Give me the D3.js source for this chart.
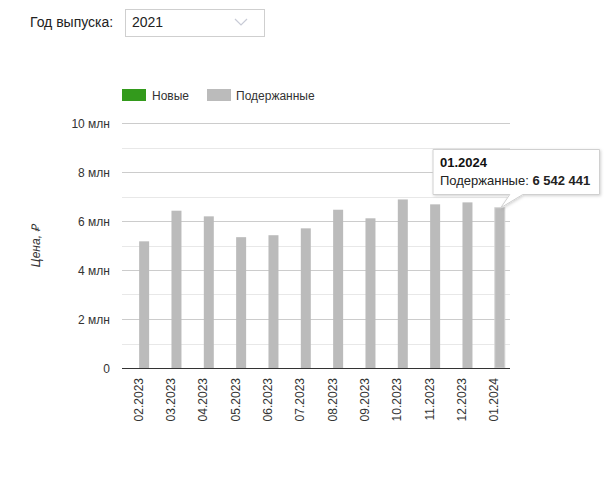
<!DOCTYPE html>
<html><head><meta charset="utf-8">
<script src="https://cdn.jsdelivr.net/npm/d3@7"></script>
<style>
body{margin:0;background:#fff;font-family:"Liberation Sans",Arial,sans-serif;}
</style></head>
<body><svg id="c" width="612" height="480"></svg>
<script>
const categories = ["02.2023","03.2023","04.2023","05.2023","06.2023","07.2023","08.2023","09.2023","10.2023","11.2023","12.2023","01.2024"];
const newValues = [0,0,0,0,0,0,0,0,0,0,0,0];
const usedValues = [5170000,6420000,6190000,5340000,5420000,5700000,6460000,6110000,6880000,6680000,6760000,6542441];
const yTicks = [0,2000000,4000000,6000000,8000000,10000000];
const yTickLabels = ["0","2 млн","4 млн","6 млн","8 млн","10 млн"];
const minorTicks = [1000000,3000000,5000000,7000000,9000000];
const seriesNames = ["Новые","Подержанные"];
const seriesColors = ["#339a1c","#bbbbbb"];
const yearLabel = "Год выпуска:";
const yearValue = "2021";
const yTitle = "Цена, ₽";
const tipIndex = 11;

const svg = d3.select("#c");
const font = '"Liberation Sans",Arial,sans-serif';
const m = {l:122, r:510, t:123, b:368};
const x = d3.scaleBand().domain(categories).range([m.l, m.r]);
const y = d3.scaleLinear().domain([0,10000000]).range([m.b, m.t]);

// dropdown
svg.append("text").attr("x",30).attr("y",27).attr("font-family",font).attr("font-size",14).attr("fill","#222").text(yearLabel);
svg.append("rect").attr("x",125.5).attr("y",9.5).attr("width",139).attr("height",27).attr("fill","#fff").attr("stroke","#cfcfcf");
svg.append("text").attr("x",132).attr("y",27).attr("font-family",font).attr("font-size",14).attr("fill","#222").text(yearValue);
svg.append("path").attr("d","M235,19 L241,25 L247,19").attr("fill","none").attr("stroke","#c8cbd6").attr("stroke-width",1.2);

// legend
const leg = svg.append("g");
const legX = [122, 207];
const legTX = [152, 236];
seriesNames.forEach((n,i)=>{
  leg.append("rect").attr("x",legX[i]).attr("y",89).attr("width",24).attr("height",12).attr("fill",seriesColors[i]);
  leg.append("text").attr("x",legTX[i]).attr("y",99.5).attr("font-family",font).attr("font-size",12).attr("fill","#333").text(n);
});

// grid
svg.append("g").selectAll("line.minor").data(minorTicks).join("line")
  .attr("x1",m.l).attr("x2",m.r).attr("y1",d=>Math.round(y(d))+0.5).attr("y2",d=>Math.round(y(d))+0.5)
  .attr("stroke","#e8e8e8");
svg.append("g").selectAll("line.major").data(yTicks.slice(1)).join("line")
  .attr("x1",m.l).attr("x2",m.r).attr("y1",d=>Math.round(y(d))+0.5).attr("y2",d=>Math.round(y(d))+0.5)
  .attr("stroke","#cccccc");

// y labels
svg.append("g").selectAll("text").data(yTicks).join("text")
  .attr("x",110).attr("y",d=>y(d)+4.5).attr("text-anchor","end")
  .attr("font-family",font).attr("font-size",12).attr("fill","#333")
  .text((d,i)=>yTickLabels[i]);

// y title
svg.append("text").attr("transform","translate(40,246) rotate(-90)").attr("text-anchor","middle")
  .attr("font-family",font).attr("font-size",12).attr("font-style","italic").attr("fill","#333").text(yTitle);

// bars
const bw = x.bandwidth();
svg.append("g").selectAll("rect").data(categories).join("rect")
  .attr("x",d=>x(d)+bw*0.2).attr("width",10)
  .attr("y",(d,i)=>y(newValues[i])).attr("height",(d,i)=>y(0)-y(newValues[i]))
  .attr("fill",seriesColors[0]);
svg.append("g").selectAll("rect").data(categories).join("rect")
  .attr("x",d=>x(d)+bw*0.53).attr("width",10)
  .attr("y",(d,i)=>y(usedValues[i])).attr("height",(d,i)=>y(0)-y(usedValues[i]))
  .attr("fill",seriesColors[1])
  .attr("stroke",(d,i)=>i===tipIndex?"#d4d4d4":"none").attr("stroke-width",1);

// baseline
svg.append("line").attr("x1",m.l).attr("x2",m.r).attr("y1",y(0)+0.5).attr("y2",y(0)+0.5).attr("stroke","#333").attr("stroke-width",1.2);

// x labels
svg.append("g").selectAll("text").data(categories).join("text")
  .attr("transform",d=>`translate(${x(d)+bw/2+4.5},378) rotate(-90)`)
  .attr("text-anchor","end").attr("font-family",font).attr("font-size",12).attr("fill","#333")
  .text(d=>d);

// tooltip
const bx = x(categories[tipIndex])+bw*0.53+5;
const by = y(usedValues[tipIndex]);
const tip = svg.append("g");
const defs = svg.append("defs");
const f = defs.append("filter").attr("id","sh").attr("x","-20%").attr("y","-20%").attr("width","140%").attr("height","160%");
f.append("feDropShadow").attr("dx",1).attr("dy",1).attr("stdDeviation",1.5).attr("flood-color","#000").attr("flood-opacity",0.18);
const L=433, T=149.5, R=599.5, B=194.5;
tip.append("path")
  .attr("d",`M${L},${T} H${R} V${B} H${bx+23} L${bx+1},${by} L${bx+10},${B} H${L} Z`)
  .attr("fill","#fff").attr("stroke","#d0d0d0").attr("filter","url(#sh)");
tip.append("text").attr("x",440).attr("y",167).attr("font-family",font).attr("font-size",13).attr("font-weight","bold").attr("fill","#111").text(categories[tipIndex]);
const t2 = tip.append("text").attr("x",440).attr("y",185).attr("font-family",font).attr("font-size",13).attr("fill","#222");
t2.append("tspan").text(seriesNames[1]+": ");
t2.append("tspan").attr("font-weight","bold").text(d3.format(",")(usedValues[tipIndex]).replace(/,/g," "));
</script></body></html>
